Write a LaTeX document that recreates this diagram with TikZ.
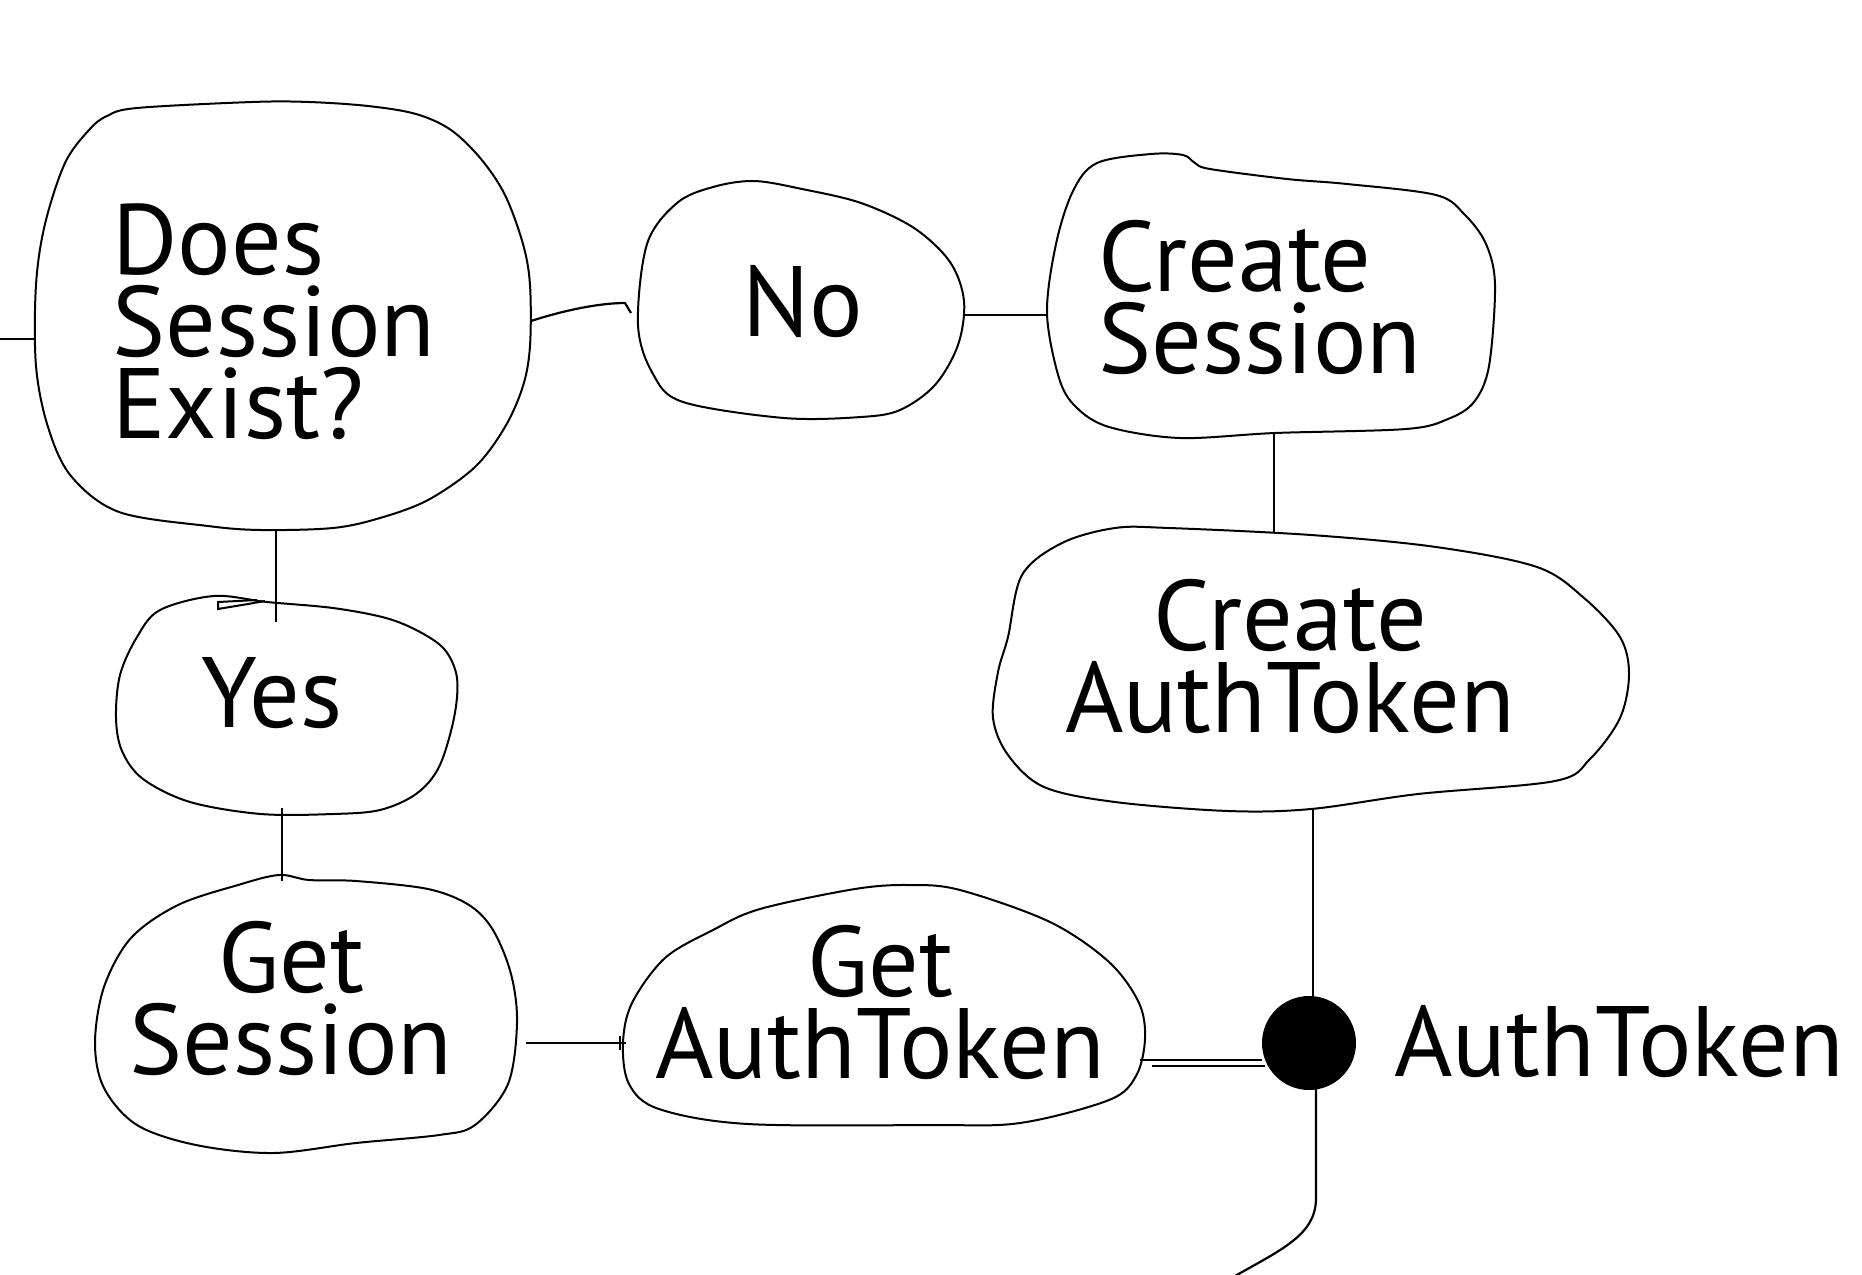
\documentclass[tikz,border=0pt]{standalone}
\usepackage{fontspec}
\setmainfont{PT Sans}
\usetikzlibrary{calc}
\newcommand\mlL[1]{\vtop{\halign{##\hfil\cr#1\crcr}}}
\newcommand\mlC[1]{\vtop{\halign{\hfil##\hfil\cr#1\crcr}}}
\begin{document}
\begin{tikzpicture}[x=1pt,y=-1pt,
  blob/.style={draw=black,line width=2pt,line join=round},
  conn/.style={draw=black,line width=2.2pt},
  lbl/.style={inner sep=0pt,font=\fontsize{100}{82}\selectfont},
  lblw/.style={lbl,anchor=base west},
  lblc/.style={lbl,anchor=base}]
\useasboundingbox[fill=white] (0,0) rectangle (1862,1274);

% blobs
\draw[blob] plot[smooth cycle,tension=0.55] coordinates {(137,108) (252,102) (309,102) (368,106) (416,114) (451,130) (481,159) (505,195) (523,244) (530,285) (530,346) (523,386) (505,427) (475,467) (428,500) (380,518) (333,528) (261,530) (208,526) (119,512) (71,476) (48,427) (36,366) (36,285) (45,224) (65,163) (89,130) (107,116)};
\draw[blob] plot[smooth cycle,tension=0.55] coordinates {(638,325) (647,244) (677,203) (713,187) (754,181) (802,189) (861,203) (914,228) (950,262) (964,301) (958,345) (935,385) (900,410) (861,417) (784,418) (683,402) (653,374)};
\draw[blob] plot[smooth cycle,tension=0.55] coordinates {(1097,163) (1151,154) (1183,155) (1195,163) (1210,169) (1287,179) (1347,184) (1436,195) (1465,215) (1486,244) (1495,285) (1489,366) (1474,402) (1448,419) (1406,429) (1275,433) (1180,438) (1109,427) (1076,407) (1059,378) (1047,313) (1056,244) (1073,191)};
\draw[blob] plot[smooth cycle,tension=0.55] coordinates {(1008,637) (1022,575) (1062,543) (1115,528) (1169,528) (1311,535) (1436,547) (1537,567) (1584,598) (1620,637) (1629,674) (1620,718) (1590,759) (1555,781) (1418,794) (1311,809) (1228,811) (1115,802) (1044,787) (1008,755) (993,718) (998,672)};
\draw[blob] plot[smooth cycle,tension=0.55] coordinates {(137,637) (160,610) (214,596) (267,602) (333,608) (386,618) (420,632) (445,650) (457,678) (454,718) (439,767) (416,794) (380,810) (333,814) (261,814) (190,802) (143,779) (122,751) (116,718) (120,675)};
\draw[blob] plot[smooth cycle,tension=0.55] coordinates {(279,875) (309,880) (356,881) (428,889) (469,905) (493,930) (511,974) (517,1023) (508,1084) (475,1125) (439,1135) (356,1143) (273,1153) (196,1145) (137,1125) (104,1088) (95,1043) (104,987) (131,938) (178,905) (238,885)};
\draw[blob] plot[smooth cycle,tension=0.55] coordinates {(623,1043) (632,1003) (665,958) (713,930) (760,909) (855,889) (909,885) (960,890) (1050,922) (1109,962) (1139,1003) (1145,1039) (1136,1076) (1109,1100) (1020,1123) (931,1125) (748,1124) (659,1109) (629,1084)};

% texts (anchored at the baseline of their first line)
\node[lblw] (does) at (112,274) {\mlL{Does\cr Session\cr Exist?}};
\node[lblc] (no) at (803,336) {No};
\node[lblw] (cs) at (1098,291) {\mlL{Create\cr Session}};
\node[lblc] (ca) at (1290,650) {\mlC{Create\cr AuthToken}};
\node[lblc] (yes) at (272,727) {Yes};
\node[lblc] (gs) at (291,992) {\mlC{Get\cr Session}};
\node[lblc] (ga) at (880,996) {\mlC{Get\cr AuthToken}};
\node[circle,fill=black,inner sep=0pt,minimum size=94pt] (dot) at (1309,1043) {};
\node[lblw] (at) at (1394,1076) {AuthToken};

% connector end points
\coordinate (inL) at (0,339);
\coordinate (dL) at (35,339);
\coordinate (dR) at (531,321);
\coordinate (nL) at (625,303);
\coordinate (nH) at (631,313);
\coordinate (nR) at (964,315);
\coordinate (csL) at (1047,315);
\coordinate (csB) at (1274,433);
\coordinate (caT) at (1274,533);
\coordinate (caB) at (1313,809);
\coordinate (dB) at (276,530);
\coordinate (yT) at (276,622);
\coordinate (yB) at (282,808);
\coordinate (gsT) at (282,881);
\coordinate (gsR) at (526,1043);
\coordinate (gaL) at (626,1043);
\coordinate (ga1a) at (1140,1060);
\coordinate (ga2a) at (1152,1066);
\coordinate (out) at (1228,1280);

% connectors
\draw[conn] (inL) -- (dL);
\draw[conn] (dR) .. controls (565,310) and (600,303) .. (nL) -- (nH);
\draw[conn] (nR) -- (csL);
\draw[conn] (csB) -- (caT);
\draw[conn] (caB) -- (dot.north -| caB);
\draw[conn] (dB) -- (yT);
\draw[line width=2pt] (257,600) -- (218,602) -- (218,609) -- (248,604) -- (265,601);
\draw[conn] (yB) -- (gsT);
\draw[conn] (gsR) -- (gaL);
\draw[line width=2pt] (620,1036) -- (620,1050);
\draw[conn] (ga1a) -- (ga1a -| dot.west);
\draw[conn] (ga2a) -- ($(dot.center)+(-44,23)$);
\draw[conn] (1316,1088) -- (1316,1198) .. controls (1316,1236) and (1280,1250) .. (out);
\end{tikzpicture}
\end{document}
